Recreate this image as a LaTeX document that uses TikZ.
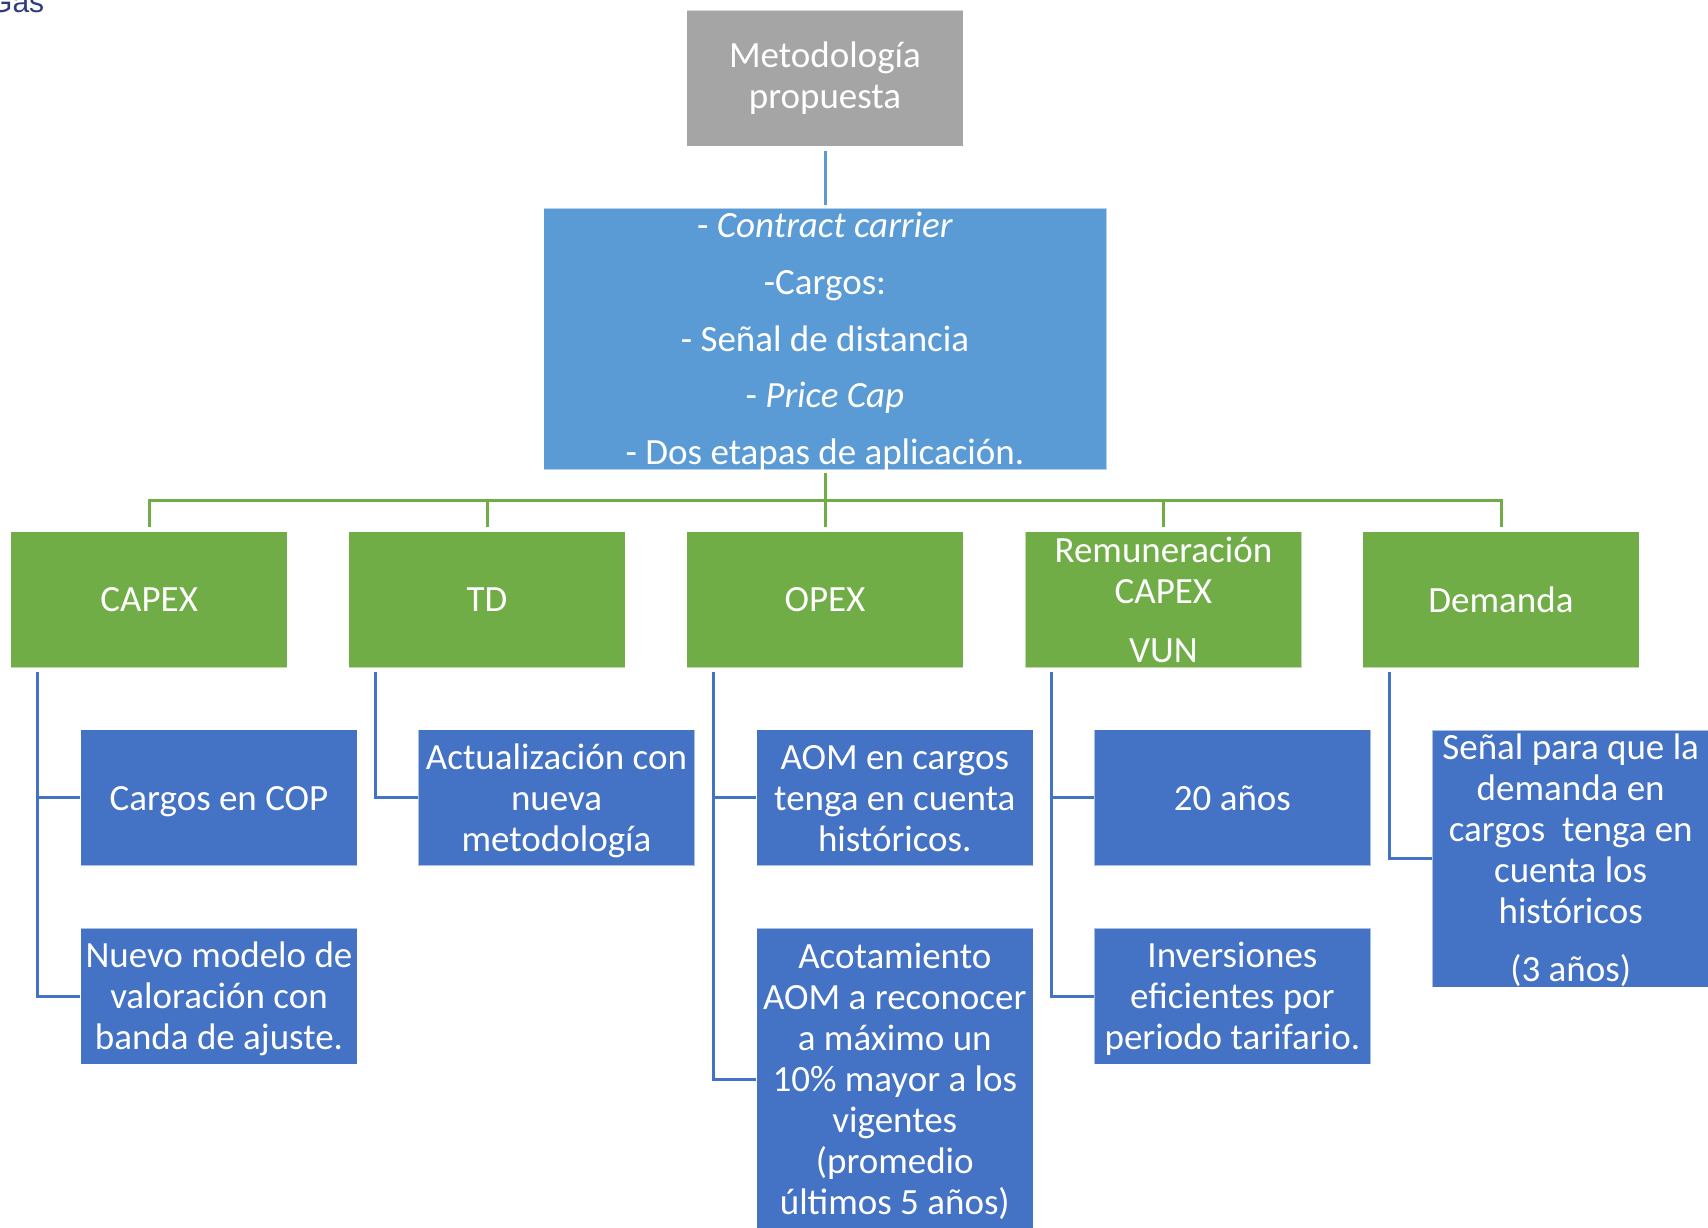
\documentclass[tikz,border=0pt]{standalone}
\usepackage{fontspec}
\setmainfont{Carlito}
\newfontfamily\headerfont{Liberation Sans}
\definecolor{boxgray}{HTML}{A5A5A5}
\definecolor{boxsky}{HTML}{5B9BD5}
\definecolor{boxgreen}{HTML}{70AD47}
\definecolor{boxblue}{HTML}{4472C4}
\definecolor{headnavy}{HTML}{2E3D7C}
% fixed ascent for the first line of a text block
\newcommand\lineup{\rule{0pt}{37pt}}
\begin{document}
\begin{tikzpicture}[x=1pt,y=-1pt,
  % negative vertical padding lets a long text spill past its fixed-size box
  box/.style={draw=white, draw opacity=0.55, line width=1pt, inner xsep=0pt, inner ysep=-30pt,
    minimum width=276.5pt, minimum height=136pt, align=center, text=white,
    font=\fontsize{37}{41}\selectfont},
  % fixed descent for the last line of a text block
  evenlines/.style={execute at end node={\rule[-12.3pt]{0pt}{12.3pt}}},
  rootbox/.style={box, fill=boxgray},
  mainbox/.style={box, evenlines, fill=boxsky, minimum width=563pt, minimum height=261.5pt},
  topicbox/.style={box, fill=boxgreen},
  itembox/.style={box, evenlines, fill=boxblue},
  skylink/.style={draw=boxsky, line width=3pt},
  greenlink/.style={draw=boxgreen, line width=3pt},
  bluelink/.style={draw=boxblue, line width=3pt}]
\useasboundingbox (0,0) rectangle (1708,1228);

% page header fragment
\node[anchor=base west, inner sep=0pt, text=headnavy,
  font=\headerfont\fontsize{30}{36}\selectfont] (hdr) at (-11,13) {Gas};

% root and summary
\node[rootbox] (root) at (825,78.5) {Metodología\\propuesta};
\node[mainbox] (main) at (825,338.8)
  {\lineup- \textit{Contract carrier}\\[15.6pt]-Cargos:\\[15.6pt]- Señal de distancia\\[15.6pt]- \textit{Price Cap}\\[15.6pt]- Dos etapas de aplicación.};

% topic row
\node[topicbox] (capex) at (149.2,599.6) {CAPEX};
\node[topicbox] (td)    at (487,599.6)   {TD};
\node[topicbox] (opex)  at (825,599.6)   {OPEX};
\node[topicbox] (rem)   at (1163.4,599.6) {Remuneración\\CAPEX\\[18pt]VUN};
\node[topicbox] (dem)   at (1501,599.6)  {Demanda};

% detail boxes
\node[itembox] (capexA) at (219,797.9)   {\lineup Cargos en COP};
\node[itembox] (capexB) at (219,996)     {\lineup Nuevo modelo de\\valoración con\\banda de ajuste.};
\node[itembox] (tdA)    at (556.5,797.9) {\lineup Actualización con\\nueva\\metodología};
\node[itembox] (opexA)  at (894.8,797.9) {\lineup AOM en cargos\\tenga en cuenta\\históricos.};
\node[itembox, minimum height=302pt] (opexB) at (894.8,1079)
  {\lineup Acotamiento\\AOM a reconocer\\a máximo un\\10\% mayor a los\\vigentes\\(promedio\\últimos 5 años)};
\node[itembox] (remA)   at (1232.4,797.9) {\lineup 20 años};
\node[itembox] (remB)   at (1232.4,996)   {\lineup Inversiones\\eficientes por\\periodo tarifario.};
\node[itembox, minimum height=257pt] (demA) at (1570.7,858.5)
  {\lineup Señal para que la\\demanda en\\cargos\ \ tenga en\\cuenta los\\históricos\\[17pt](3 años)};

% root to summary
\draw[skylink] ([yshift=-4pt]root.south) -- ([yshift=3pt]main.north);

% summary to topics
\coordinate (bus) at (825,500);
\draw[greenlink] ([yshift=-3pt]main.south) -- (bus);
\draw[greenlink] ([yshift=4pt]capex.north) |- (bus) -| ([yshift=4pt]dem.north);
\foreach \t in {td,opex,rem}
  \draw[greenlink] ([yshift=4pt]\t.north) -- (\t.north |- bus);

% topics to details
\draw[bluelink] ([xshift=27pt,yshift=-4pt]capex.south west) |- (capexB.west);
\draw[bluelink] ([xshift=27pt,yshift=-4pt]capex.south west) |- (capexA.west);
\draw[bluelink] ([xshift=27pt,yshift=-4pt]td.south west) |- (tdA.west);
\draw[bluelink] ([xshift=27pt,yshift=-4pt]opex.south west) |- (opexB.west);
\draw[bluelink] ([xshift=27pt,yshift=-4pt]opex.south west) |- (opexA.west);
\draw[bluelink] ([xshift=27pt,yshift=-4pt]rem.south west) |- (remB.west);
\draw[bluelink] ([xshift=27pt,yshift=-4pt]rem.south west) |- (remA.west);
\draw[bluelink] ([xshift=27pt,yshift=-4pt]dem.south west) |- (demA.west);
\end{tikzpicture}
\end{document}
